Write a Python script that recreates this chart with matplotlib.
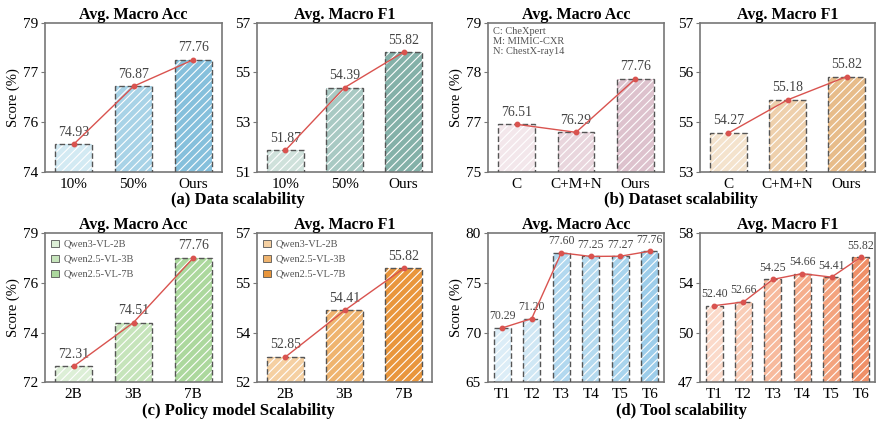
import numpy as np
import matplotlib
matplotlib.use("Agg")
import matplotlib.pyplot as plt
from matplotlib.ticker import FormatStrFormatter
from matplotlib.patches import Patch

plt.rcParams['font.family'] = ['Liberation Serif', 'DejaVu Serif']
plt.rcParams['hatch.color'] = 'white'
plt.rcParams['hatch.linewidth'] = 0.8

# data for each panel
data_labels = ["10%", "50%", "Ours"]
data_acc = [74.93, 76.87, 77.76]
data_f1 = [51.87, 54.39, 55.82]

dataset_labels = ["C", "C+M+N", "Ours"]
dataset_acc = [76.51, 76.29, 77.76]
dataset_f1 = [54.27, 55.18, 55.82]

policy_labels = ["2B", "3B", "7B"]
policy_acc = [72.31, 74.51, 77.76]
policy_f1 = [52.85, 54.41, 55.82]
policy_names = ["Qwen3-VL-2B", "Qwen2.5-VL-3B", "Qwen2.5-VL-7B"]

tool_labels = ["T1", "T2", "T3", "T4", "T5", "T6"]
tool_acc = [70.29, 71.20, 77.60, 77.25, 77.27, 77.76]
tool_f1 = [52.40, 52.66, 54.25, 54.66, 54.41, 55.82]

# colors
c_data_acc = ['#d3eaf3', '#a9d3e7', '#86c0dc']
c_data_f1 = ['#cfe1db', '#a9c9c3', '#84b1a9']
c_set_acc = ['#f3e7eb', '#e9d6dd', '#ddc2cd']
c_set_f1 = ['#f4e3cd', '#eed0ac', '#e7bc8a']
c_pol_acc = ['#ddefd7', '#c6e4bb', '#acd89e']
c_pol_f1 = ['#f5d0a2', '#efb46f', '#e9963c']
c_tool_acc = ['#dcedf7', '#d0e7f4', '#b2d8ef', '#b5daef', '#a9d4ed', '#9dcdea']
c_tool_f1 = ['#fbdaca', '#f9cdb7', '#f7ba9d', '#f5ae8d', '#f3a37e', '#f09068']

line_color = '#d9534f'
edge_color = '#555555'
spine_color = '#777777'


def draw_panel(ax, labels, values, colors, ylim, title, ylabel=False, lab_size=10, width=0.62):
    x = np.arange(len(labels))
    ax.bar(x, values, width=width, color=colors, hatch='////', edgecolor='white', linewidth=0, zorder=2)
    ax.bar(x, values, width=width, fill=False, edgecolor=edge_color, linewidth=1.0,
           linestyle=(0, (4, 2)), zorder=3)
    ax.plot(x, values, color=line_color, linewidth=1.0, marker='o', markersize=3.2, zorder=4)
    for xi, v in zip(x, values):
        ax.annotate(f"{v:.2f}", (xi, v), xytext=(0, 4), textcoords='offset points',
                    ha='center', va='bottom', fontsize=lab_size, color='#444444')
    ax.set_ylim(ylim)
    ax.set_xlim(-0.48, len(labels) - 0.52)
    ax.set_yticks(np.linspace(ylim[0], ylim[1], 4))
    ax.yaxis.set_major_formatter(FormatStrFormatter('%.0f'))
    ax.set_xticks(x)
    ax.set_xticklabels(labels)
    ax.tick_params(axis='both', labelsize=11, length=3, color=spine_color, pad=2)
    ax.tick_params(axis='x', length=0, pad=4)
    for s in ax.spines.values():
        s.set_color(spine_color)
        s.set_linewidth(1.2)
    ax.set_title(title, fontsize=11.5, fontweight='bold', pad=3)
    if ylabel:
        ax.set_ylabel("Score (%)", fontsize=10.5, labelpad=2)


def add_legend(ax, colors):
    handles = [Patch(facecolor=c, edgecolor=edge_color, linewidth=0.6) for c in colors]
    ax.legend(handles, policy_names, loc='upper left', frameon=False, fontsize=7.5,
              labelcolor='#555555', handlelength=0.7, handleheight=0.7, handletextpad=0.5,
              borderaxespad=0.2, labelspacing=0.55)


fig = plt.figure(figsize=(8.76, 4.24), dpi=100)
W, H = 876, 424


def add_ax(x0, x1, y0, y1):
    return fig.add_axes([x0 / W, 1 - y1 / H, (x1 - x0) / W, (y1 - y0) / H])


lefts = [(45, 222), (257, 432), (488, 664), (700, 875)]
top_rows = [(22.7, 172), (233.3, 382.3)]

ax = add_ax(*lefts[0], *top_rows[0])
draw_panel(ax, data_labels, data_acc, c_data_acc, (74, 79), "Avg. Macro Acc", ylabel=True)
ax = add_ax(*lefts[1], *top_rows[0])
draw_panel(ax, data_labels, data_f1, c_data_f1, (51, 57), "Avg. Macro F1")

ax = add_ax(*lefts[2], *top_rows[0])
draw_panel(ax, dataset_labels, dataset_acc, c_set_acc, (75.2, 79.3), "Avg. Macro Acc", ylabel=True)
ax.text(0.03, 0.97, "C: CheXpert\nM: MIMIC-CXR\nN: ChestX-ray14", transform=ax.transAxes,
        ha='left', va='top', fontsize=7.5, color='#555555', linespacing=1.15)
ax = add_ax(*lefts[3], *top_rows[0])
draw_panel(ax, dataset_labels, dataset_f1, c_set_f1, (53.2, 57.3), "Avg. Macro F1")

ax = add_ax(*lefts[0], *top_rows[1])
draw_panel(ax, policy_labels, policy_acc, c_pol_acc, (71.5, 79), "Avg. Macro Acc", ylabel=True)
add_legend(ax, c_pol_acc)
ax = add_ax(*lefts[1], *top_rows[1])
draw_panel(ax, policy_labels, policy_f1, c_pol_f1, (52, 57), "Avg. Macro F1")
add_legend(ax, c_pol_f1)

ax = add_ax(*lefts[2], *top_rows[1])
draw_panel(ax, tool_labels, tool_acc, c_tool_acc, (65, 79.5), "Avg. Macro Acc", ylabel=True,
           lab_size=8.5, width=0.58)
ax = add_ax(*lefts[3], *top_rows[1])
draw_panel(ax, tool_labels, tool_f1, c_tool_f1, (47, 57.5), "Avg. Macro F1", lab_size=8.5, width=0.58)

# captions under each pair
cap = dict(ha='center', va='center', fontsize=12, fontweight='bold')
fig.text(238 / W, 1 - 200 / H, "(a) Data scalability", **cap)
fig.text(681 / W, 1 - 200 / H, "(b) Dataset scalability", **cap)
fig.text(238 / W, 1 - 411 / H, "(c) Policy model Scalability", **cap)
fig.text(681 / W, 1 - 411 / H, "(d) Tool scalability", **cap)

fig.savefig("out.png", dpi=100)
